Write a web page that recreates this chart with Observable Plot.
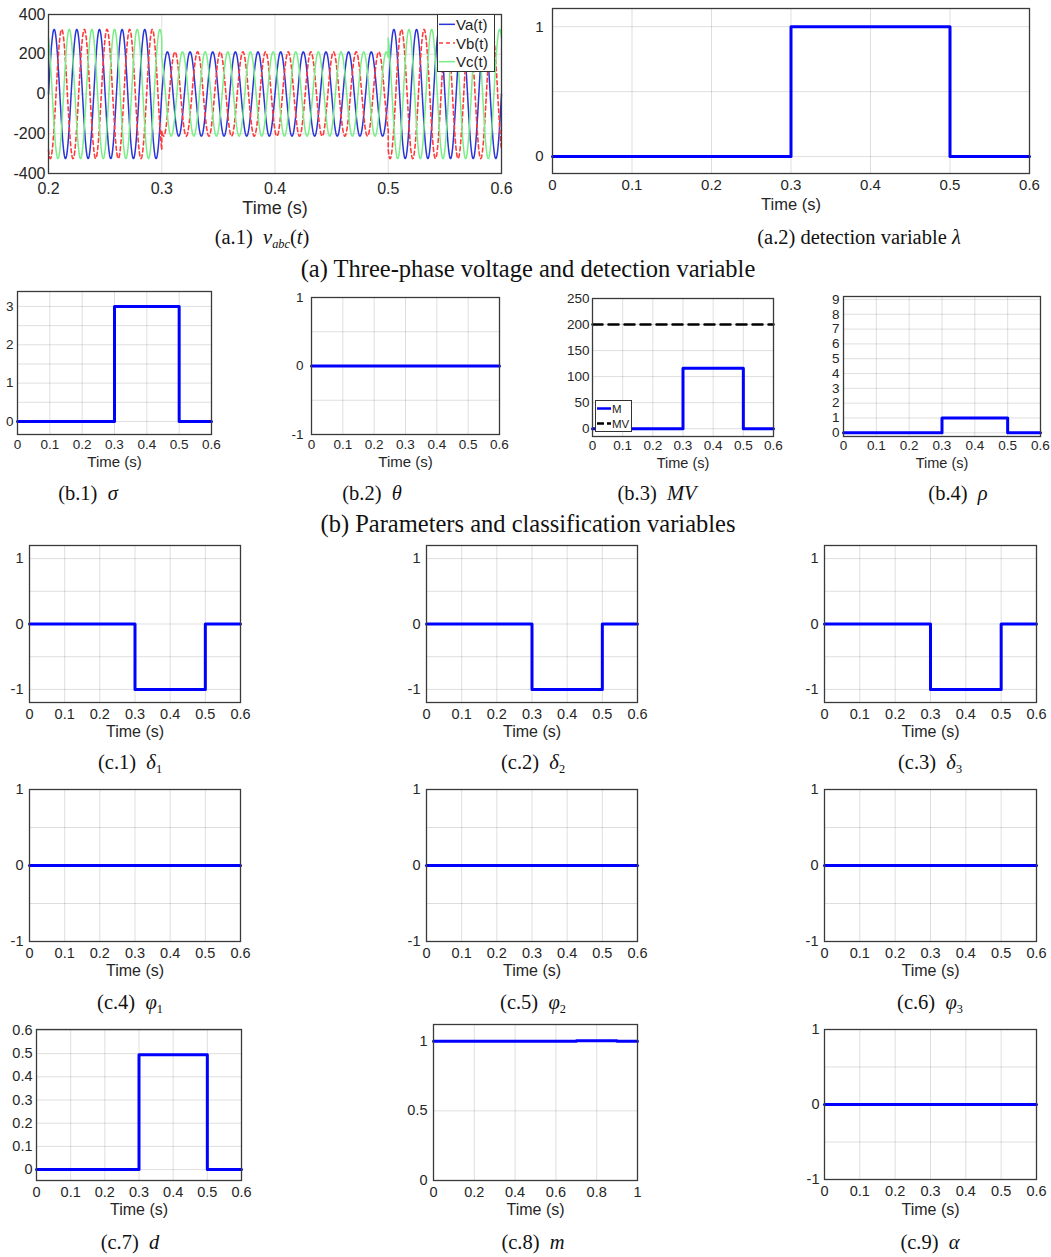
<!DOCTYPE html>
<html><head><meta charset="utf-8">
<script src="https://cdn.jsdelivr.net/npm/d3@7"></script>
<script src="https://cdn.jsdelivr.net/npm/@observablehq/plot@0.6"></script>
<style>
body{margin:0;background:#fff;}
#fig{position:relative;width:1051px;height:1257px;overflow:hidden;background:#fff;}
.cap{position:absolute;transform:translate(-50%,-50%);font-family:"Liberation Serif","Times New Roman",serif;font-size:20.5px;white-space:nowrap;color:#111;line-height:1;}
.cap sub{font-size:0.6em;vertical-align:-0.35em;line-height:0;}
.group{font-size:24.5px;}
.leg{position:absolute;background:#fff;border:1px solid #333;box-sizing:border-box;}
</style></head><body><div id="fig"></div>
<script>
// ---------------- data ----------------
const timeTicks06 = [0, 0.1, 0.2, 0.3, 0.4, 0.5, 0.6];
const timeTicksA1 = [0.2, 0.3, 0.4, 0.5, 0.6];
const timeTicks10 = [0, 0.2, 0.4, 0.6, 0.8, 1];

// three-phase voltage (a.1): piecewise amplitude of a 50 Hz system
const phaseNames = ["Va(t)", "Vb(t)", "Vc(t)"];
const phaseShiftDeg = [0, -120, 120];
const gridFrequencyHz = 50;
const voltageSegmentStart = [0.2, 0.3, 0.5];
const voltageSegmentEnd = [0.3, 0.5, 0.6];
const voltagePeak = [325, 212, 325];
const voltageTicks = [-400, -200, 0, 200, 400];

// step signals: value held from each time to the next
const stepTimes = [0, 0.3, 0.5, 0.6];
const lambdaValues = [0, 1, 0, 0];
const sigmaValues = [0, 3, 0, 0];
const thetaValues = [0, 0, 0, 0];
const mValues = [0, 116, 0, 0];
const mvTimes = [0, 0.6];
const mvValues = [200, 200];
const rhoValues = [0, 1, 0, 0];
const delta1Values = [0, -1, 0, 0];
const delta2Values = [0, -1, 0, 0];
const delta3Values = [0, -1, 0, 0];
const phi1Values = [0, 0, 0, 0];
const phi2Values = [0, 0, 0, 0];
const phi3Values = [0, 0, 0, 0];
const dValues = [0, 0.495, 0, 0];
const modTimes = [0, 0.7, 0.9, 1];
const modValues = [1, 1.004, 1, 1];
const alphaValues = [0, 0, 0, 0];

// ---------------- helpers ----------------
const fig = document.getElementById("fig");
const fmt = d => String(d);
const BLUE = "#0000ff";
const steps = (ts, vs) => ts.map((t, i) => ({t, v: vs[i]}));
const range = (a, b, s) => d3.range(0, Math.round((b - a) / s) + 1).map(k => +(a + k * s).toFixed(6));

function panel(o) {
  const mL = 60, mR = 14, mT = 10, mB = 55;
  const w = o.right - o.left, h = o.bottom - o.top;
  const svg = Plot.plot({
    width: w + mL + mR, height: h + mT + mB,
    marginLeft: mL, marginRight: mR, marginTop: mT, marginBottom: mB,
    style: {fontFamily: "'Liberation Sans', Arial, sans-serif", fontSize: o.tick + "px", color: "#262626", background: "transparent", overflow: "visible"},
    x: {domain: o.xDomain},
    y: {domain: o.yDomain},
    marks: [
      Plot.gridX(o.xGrid, {stroke: "#000", strokeOpacity: 0.13}),
      Plot.gridY(o.yGrid, {stroke: "#000", strokeOpacity: 0.13}),
      ...o.marks,
      Plot.frame({stroke: "#3a3a3a", strokeWidth: 1.3}),
      Plot.axisX(o.xTicks, {tickSize: 0, tickPadding: o.xPad ?? 6, tickFormat: fmt, label: null}),
      Plot.axisY(o.yTicks, {tickSize: 0, tickPadding: o.yPad ?? 5, tickFormat: fmt, label: null}),
      Plot.text(["Time (s)"], {frameAnchor: "bottom", dy: o.labelDy, text: d => d, fontSize: o.label, fill: "#262626"})
    ]
  });
  svg.style.position = "absolute";
  svg.style.left = (o.left - mL) + "px";
  svg.style.top = (o.top - mT) + "px";
  fig.appendChild(svg);
}

function stepLine(ts, vs, extra = {}) {
  return Plot.line(steps(ts, vs), {x: "t", y: "v", curve: "step-after", stroke: BLUE, strokeWidth: 3, ...extra});
}

function caption(html, x, y, cls = "") {
  const d = document.createElement("div");
  d.className = "cap " + cls;
  d.style.left = x + "px"; d.style.top = y + "px";
  d.innerHTML = html;
  fig.appendChild(d);
}

function legend(x, y, w, h, fs, entries, sample) {
  const d = document.createElement("div");
  d.className = "leg";
  d.style.left = x + "px"; d.style.top = y + "px"; d.style.width = w + "px"; d.style.height = h + "px";
  const ns = "http://www.w3.org/2000/svg";
  const s = document.createElementNS(ns, "svg");
  s.setAttribute("width", w - 2); s.setAttribute("height", h - 2);
  s.style.display = "block";
  const gap = (h - 2) / entries.length;
  entries.forEach((e, i) => {
    const cy = gap * (i + 0.5);
    const l = document.createElementNS(ns, "line");
    l.setAttribute("x1", 1); l.setAttribute("x2", 1 + sample);
    l.setAttribute("y1", cy); l.setAttribute("y2", cy);
    l.setAttribute("stroke", e.color); l.setAttribute("stroke-width", e.width);
    if (e.dash) l.setAttribute("stroke-dasharray", e.dash);
    s.appendChild(l);
    const t = document.createElementNS(ns, "text");
    t.setAttribute("x", sample + 2); t.setAttribute("y", cy);
    t.setAttribute("dominant-baseline", "central");
    t.setAttribute("font-family", "'Liberation Sans', Arial, sans-serif");
    t.setAttribute("font-size", fs); t.setAttribute("fill", "#222");
    t.textContent = e.label;
    s.appendChild(t);
  });
  d.appendChild(s);
  fig.appendChild(d);
}

// ---------------- (a.1) voltages ----------------
const voltageRows = [];
phaseNames.forEach((name, p) => {
  voltageSegmentStart.forEach((t0, s) => {
    const t1 = voltageSegmentEnd[s];
    const n = Math.round((t1 - t0) / 0.0002);
    for (let k = 0; k <= n; k++) {
      const t = t0 + (t1 - t0) * k / n;
      voltageRows.push({phase: name, t, v: voltagePeak[s] * Math.sin(2 * Math.PI * gridFrequencyHz * t + phaseShiftDeg[p] * Math.PI / 180)});
    }
  });
});
const phaseStyle = {
  "Va(t)": {stroke: "#2b35d6", strokeWidth: 1.5},
  "Vb(t)": {stroke: "#ff3b3b", strokeWidth: 1.6, strokeDasharray: "4,3"},
  "Vc(t)": {stroke: "#79ee86", strokeWidth: 1.5}
};
panel({
  left: 48, right: 501, top: 14, bottom: 173,
  xDomain: [0.2, 0.6], yDomain: [-400, 400],
  xTicks: timeTicksA1, xGrid: timeTicksA1, yTicks: voltageTicks, yGrid: voltageTicks,
  tick: 16, label: 18, labelDy: 40, xPad: 9, yPad: 3,
  marks: phaseNames.map(n => Plot.line(voltageRows.filter(r => r.phase === n), {x: "t", y: "v", ...phaseStyle[n]}))
});
legend(437, 14, 58, 58, 15, phaseNames.map(n => ({label: n, color: phaseStyle[n].stroke, width: 1.5, dash: phaseStyle[n].strokeDasharray})), 16);

// ---------------- (a.2) lambda ----------------
panel({
  left: 552, right: 1029, top: 8, bottom: 173,
  xDomain: [0, 0.6], yDomain: [-0.13, 1.14],
  xTicks: timeTicks06, xGrid: timeTicks06, yTicks: [0, 1], yGrid: [0, 0.5, 1],
  tick: 15, label: 16.5, labelDy: 36, xPad: 6, yPad: 9,
  marks: [stepLine(stepTimes, lambdaValues)]
});

// ---------------- row b ----------------
panel({
  left: 17, right: 211, top: 291, bottom: 434,
  xDomain: [0, 0.6], yDomain: [-0.34, 3.39],
  xTicks: timeTicks06, xGrid: timeTicks06, yTicks: [0, 1, 2, 3], yGrid: range(0, 3, 0.5),
  tick: 13.5, label: 15, labelDy: 32, xPad: 5, yPad: 4,
  marks: [stepLine(stepTimes, sigmaValues)]
});
panel({
  left: 311, right: 499, top: 297, bottom: 434,
  xDomain: [0, 0.6], yDomain: [-1, 1],
  xTicks: timeTicks06, xGrid: timeTicks06, yTicks: [-1, 0, 1], yGrid: [-1, -0.5, 0, 0.5, 1],
  tick: 13.5, label: 15, labelDy: 32, xPad: 5, yPad: 8,
  marks: [stepLine(stepTimes, thetaValues)]
});
panel({
  left: 592, right: 773, top: 298, bottom: 436,
  xDomain: [0, 0.6], yDomain: [-15, 250],
  xTicks: timeTicks06, xGrid: timeTicks06, yTicks: range(0, 250, 50), yGrid: range(0, 250, 50),
  tick: 13.5, label: 14.5, labelDy: 31.5, xPad: 4, yPad: 3,
  marks: [
    Plot.line(steps(mvTimes, mvValues), {x: "t", y: "v", stroke: "#000", strokeWidth: 2.5, strokeDasharray: "10,6"}),
    stepLine(stepTimes, mValues)
  ]
});
legend(595, 400, 37, 32, 11.5, [
  {label: "M", color: BLUE, width: 2.5},
  {label: "MV", color: "#000", width: 2.5, dash: "7,3"}
], 14);
panel({
  left: 843, right: 1040, top: 296, bottom: 436,
  xDomain: [0, 0.6], yDomain: [-0.25, 9.2],
  xTicks: timeTicks06, xGrid: timeTicks06, yTicks: range(0, 9, 1), yGrid: range(0, 9, 1),
  tick: 13.5, label: 14.5, labelDy: 31.5, xPad: 4, yPad: 4,
  marks: [stepLine(stepTimes, rhoValues)]
});

// ---------------- row c ----------------
const colL = [29, 426, 824], colR = [240, 637, 1036];
[delta1Values, delta2Values, delta3Values].forEach((vals, i) => panel({
  left: colL[i], right: colR[i], top: 545, bottom: 702,
  xDomain: [0, 0.6], yDomain: [-1.2, 1.2],
  xTicks: timeTicks06, xGrid: timeTicks06, yTicks: [-1, 0, 1], yGrid: [-1, -0.5, 0, 0.5, 1],
  tick: 14.5, label: 16, labelDy: 34, xPad: 6, yPad: 6,
  marks: [stepLine(stepTimes, vals)]
}));
[phi1Values, phi2Values, phi3Values].forEach((vals, i) => panel({
  left: colL[i], right: colR[i], top: 789, bottom: 941,
  xDomain: [0, 0.6], yDomain: [-1, 1],
  xTicks: timeTicks06, xGrid: timeTicks06, yTicks: [-1, 0, 1], yGrid: [-1, -0.5, 0, 0.5, 1],
  tick: 14.5, label: 16, labelDy: 34.5, xPad: 6, yPad: 6,
  marks: [stepLine(stepTimes, vals)]
}));
panel({
  left: 36, right: 241, top: 1029, bottom: 1180,
  xDomain: [0, 0.6], yDomain: [-0.047, 0.604],
  xTicks: timeTicks06, xGrid: timeTicks06, yTicks: range(0, 0.6, 0.1), yGrid: range(0, 0.6, 0.1),
  tick: 14.5, label: 16, labelDy: 34.5, xPad: 6, yPad: 4,
  marks: [stepLine(stepTimes, dValues)]
});
panel({
  left: 433, right: 637, top: 1024, bottom: 1180,
  xDomain: [0, 1], yDomain: [0, 1.12],
  xTicks: timeTicks10, xGrid: timeTicks10, yTicks: [0, 0.5, 1], yGrid: [0, 0.5, 1],
  tick: 14.5, label: 16, labelDy: 34.5, xPad: 6, yPad: 6,
  marks: [stepLine(modTimes, modValues)]
});
panel({
  left: 824, right: 1036, top: 1029, bottom: 1179,
  xDomain: [0, 0.6], yDomain: [-1, 1],
  xTicks: timeTicks06, xGrid: timeTicks06, yTicks: [-1, 0, 1], yGrid: [-1, -0.5, 0, 0.5, 1],
  tick: 14.5, label: 16, labelDy: 35, xPad: 6, yPad: 5,
  marks: [stepLine(stepTimes, alphaValues)]
});

// ---------------- captions ----------------
caption("(a.1)&nbsp; <i>v</i><sub><i>abc</i></sub>(<i>t</i>)", 262, 237);
caption("(a.2) detection variable <i>λ</i>", 859, 237);
caption("(a) Three-phase voltage and detection variable", 528, 269, "group");
caption("(b.1)&nbsp; <i>σ</i>", 88, 493);
caption("(b.2)&nbsp; <i>θ</i>", 372, 493);
caption("(b.3)&nbsp; <i>MV</i>", 657, 493);
caption("(b.4)&nbsp; <i>ρ</i>", 958, 493);
caption("(b) Parameters and classification variables", 528, 524, "group");
const capX = [130, 533, 930];
caption("(c.1)&nbsp; <i>δ</i><sub>1</sub>", capX[0], 762);
caption("(c.2)&nbsp; <i>δ</i><sub>2</sub>", capX[1], 762);
caption("(c.3)&nbsp; <i>δ</i><sub>3</sub>", capX[2], 762);
caption("(c.4)&nbsp; <i>φ</i><sub>1</sub>", capX[0], 1002);
caption("(c.5)&nbsp; <i>φ</i><sub>2</sub>", capX[1], 1002);
caption("(c.6)&nbsp; <i>φ</i><sub>3</sub>", capX[2], 1002);
caption("(c.7)&nbsp; <i>d</i>", capX[0], 1242);
caption("(c.8)&nbsp; <i>m</i>", capX[1], 1242);
caption("(c.9)&nbsp; <i>α</i>", capX[2], 1242);
</script></body></html>
